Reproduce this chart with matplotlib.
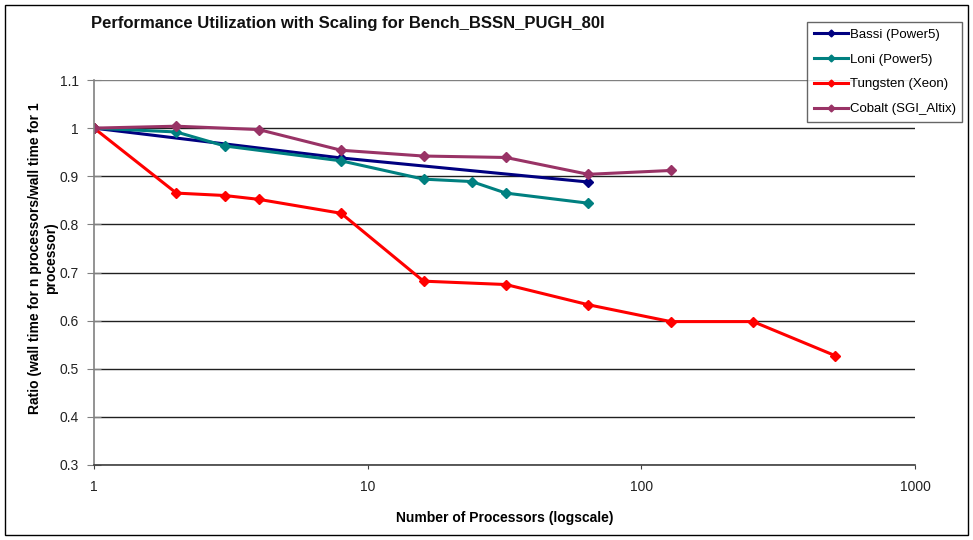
import numpy as np
import matplotlib.pyplot as plt
from matplotlib.patches import Rectangle

plt.rcParams['font.family'] = ['Liberation Sans', 'DejaVu Sans']

# processors vs. ratio (wall time n procs / wall time 1 proc)
bassi_n = [1, 8, 64]
bassi_r = [1.0, 0.938, 0.888]

loni_n = [1, 2, 3, 8, 16, 24, 32, 64]
loni_r = [1.0, 0.992, 0.963, 0.932, 0.894, 0.889, 0.865, 0.844]

tungsten_n = [1, 2, 3, 4, 8, 16, 32, 64, 128, 256, 512]
tungsten_r = [1.0, 0.865, 0.860, 0.852, 0.823, 0.682, 0.675, 0.633, 0.598, 0.598, 0.527]

cobalt_n = [1, 2, 4, 8, 16, 32, 64, 128]
cobalt_r = [1.0, 1.004, 0.997, 0.954, 0.942, 0.939, 0.904, 0.912]

series = [
    ("Bassi (Power5)", bassi_n, bassi_r, "#000080"),
    ("Loni (Power5)", loni_n, loni_r, "#008080"),
    ("Tungsten (Xeon)", tungsten_n, tungsten_r, "#FF0000"),
    ("Cobalt (SGI_Altix)", cobalt_n, cobalt_r, "#993366"),
]

fig = plt.figure(figsize=(9.73, 5.4), dpi=100)
W, H = 973, 540
ax = fig.add_axes([94 / W, 1 - 465 / H, (915 - 94) / W, (465 - 80) / H])

for name, n, r, c in series:
    ax.plot(n, r, color=c, lw=2.2, marker="D", ms=5, label=name)

ax.set_xscale("log")
ax.set_xlim(1, 1000)
ax.set_ylim(0.3, 1.1)
ax.set_xticks([1, 10, 100, 1000])
ax.set_xticklabels(["1", "10", "100", "1000"])
ax.minorticks_off()
ax.set_yticks(np.arange(0.3, 1.11, 0.1))
ax.set_yticklabels(["0.3", "0.4", "0.5", "0.6", "0.7", "0.8", "0.9", "1", "1.1"])
ax.grid(axis="y", color="#202020", lw=1)
ax.get_ygridlines()[-1].set_color("#808080")
ax.set_axisbelow(True)
for s in ["top", "right"]:
    ax.spines[s].set_visible(False)
ax.spines["left"].set_color("#808080")
ax.spines["bottom"].set_color("#404040")
ax.spines["left"].set_linewidth(1.2)
ax.spines["bottom"].set_linewidth(1.2)
ax.tick_params(labelcolor="#222222", labelsize=10)
ax.tick_params(axis="y", direction="inout", length=10, color="#808080", pad=6)
ax.tick_params(axis="x", direction="out", length=3, color="#404040", pad=8)

ax.set_xlabel("Number of Processors (logscale)", fontsize=10, fontweight="bold", labelpad=12)
ax.set_ylabel("Ratio (wall time for n processors/wall time for 1\nprocessor)",
              fontsize=10, fontweight="bold")
ax.yaxis.set_label_coords((58 - 94) / (915 - 94), (465 - 258) / (465 - 80))

fig.text(91 / W, 1 - 28 / H, "Performance Utilization with Scaling for Bench_BSSN_PUGH_80I",
         fontsize=12, fontweight="bold", va="baseline", color="#111111")

leg = fig.legend(loc="upper left", bbox_to_anchor=(807 / W, 1 - 22 / H), frameon=True,
                 fancybox=False, edgecolor="#404040", fontsize=9.5, handlelength=2.6,
                 markerscale=0.7, borderpad=0.5, borderaxespad=0, labelspacing=0.95,
                 handletextpad=0.15)
leg.get_frame().set_linewidth(1)

fig.patches.append(Rectangle((5 / W, 5 / H), (W - 10) / W, (H - 10) / H, transform=fig.transFigure,
                             fill=False, edgecolor="black", lw=1))

fig.savefig("out.png", dpi=100)
